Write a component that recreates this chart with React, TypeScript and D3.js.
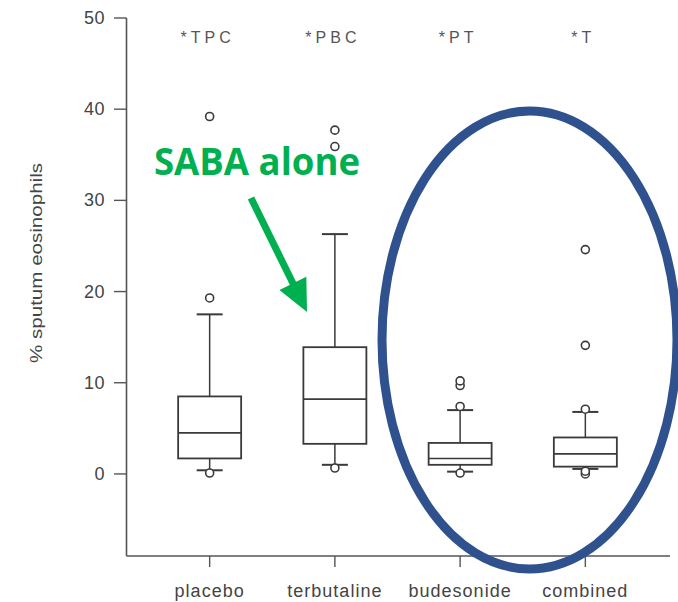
import React from "react";
import * as d3 from "d3";

const categories = ["placebo", "terbutaline", "budesonide", "combined"];
const q1 = [1.7, 3.3, 1.0, 0.8];
const medians = [4.5, 8.2, 1.7, 2.2];
const q3 = [8.5, 13.9, 3.4, 4.0];
const whiskerLow = [0.4, 1.0, 0.25, 0.55];
const whiskerHigh = [17.5, 26.3, 7.0, 6.8];
const outliers = [
  [0.1, 19.3, 39.2],
  [0.65, 35.9, 37.7],
  [0.1, 7.4, 9.7, 10.2],
  [0.0, 0.3, 7.1, 14.1, 24.6],
];
const sigLabels = ["*TPC", "*PBC", "*PT", "*T"];
const yTicks = [0, 10, 20, 30, 40, 50];
const yLabel = "% sputum eosinophils";
const annotation = "SABA alone";

const W = 678;
const H = 602;

export default function App() {
  const x = d3.scalePoint<string>().domain(categories).range([127, 668]).padding(0.66);
  const y = d3.scaleLinear().domain([-9, 50]).range([556, 18]);
  const boxW = 63;
  const capW = 26;
  const stroke = "#3a3a3a";
  const textCol = "#444";
  const font = "'Liberation Sans', Arial, sans-serif";

  // arrow geometry
  const ax0 = 251, ay0 = 198, ax1 = 307, ay1 = 312;
  const dx = ax1 - ax0, dy = ay1 - ay0;
  const len = Math.hypot(dx, dy);
  const ux = dx / len, uy = dy / len;
  const headL = 32, headW = 15;
  const bx = ax1 - ux * headL, by = ay1 - uy * headL;
  const px = -uy, py = ux;

  return (
    <svg width={W} height={H} style={{ position: "absolute", left: 0, top: 0, background: "#fff" }}>
      <rect width={W} height={H} fill="#fff" />
      {/* axes */}
      <line x1={126.5} y1={y(50)} x2={126.5} y2={556} stroke="#555" strokeWidth={1.6} />
      <line x1={126.5} y1={556} x2={670} y2={556} stroke="#555" strokeWidth={1.6} />
      {yTicks.map((t) => (
        <g key={t}>
          <line x1={114} x2={126.5} y1={y(t)} y2={y(t)} stroke="#555" strokeWidth={1.4} />
          <text x={105} y={y(t) + 6} textAnchor="end" fontFamily={font} fontSize={18} fill={textCol} letterSpacing={0.5}>
            {t}
          </text>
        </g>
      ))}
      <text
        transform={`translate(42, 263) rotate(-90)`}
        textAnchor="middle"
        fontFamily={font}
        fontSize={16}
        fill={textCol}
        textLength={200}
        lengthAdjust="spacingAndGlyphs"
      >
        {yLabel}
      </text>
      {categories.map((c, i) => {
        const cx = x(c) as number;
        return (
          <g key={c}>
            <line x1={cx} x2={cx} y1={556} y2={567} stroke="#555" strokeWidth={1.4} />
            <text x={cx} y={597} textAnchor="middle" fontFamily={font} fontSize={18} fill={textCol} letterSpacing={1}>
              {c}
            </text>
            <text x={cx - 2} y={43} textAnchor="middle" fontFamily={font} fontSize={16} fill="#555" letterSpacing={4}>
              {sigLabels[i]}
            </text>
            {/* whiskers */}
            <line x1={cx} x2={cx} y1={y(q3[i])} y2={y(whiskerHigh[i])} stroke={stroke} strokeWidth={1.5} />
            <line x1={cx} x2={cx} y1={y(q1[i])} y2={y(whiskerLow[i])} stroke={stroke} strokeWidth={1.5} />
            <line x1={cx - capW / 2} x2={cx + capW / 2} y1={y(whiskerHigh[i])} y2={y(whiskerHigh[i])} stroke={stroke} strokeWidth={2} />
            <line x1={cx - capW / 2} x2={cx + capW / 2} y1={y(whiskerLow[i])} y2={y(whiskerLow[i])} stroke={stroke} strokeWidth={2} />
            {/* box */}
            <rect
              x={cx - boxW / 2}
              y={y(q3[i])}
              width={boxW}
              height={y(q1[i]) - y(q3[i])}
              fill="#fff"
              stroke={stroke}
              strokeWidth={1.8}
            />
            <line x1={cx - boxW / 2} x2={cx + boxW / 2} y1={y(medians[i])} y2={y(medians[i])} stroke={stroke} strokeWidth={1.6} />
            {outliers[i].map((o, k) => (
              <circle key={k} cx={cx} cy={y(o)} r={4} fill="#fff" stroke={stroke} strokeWidth={1.6} />
            ))}
          </g>
        );
      })}
      {/* annotation */}
      <text x={154} y={175} fontFamily="'Open Sans', 'Noto Sans', sans-serif" fontWeight="bold" fontSize={37} fill="#00B050" textLength={206} lengthAdjust="spacingAndGlyphs">
        {annotation}
      </text>
      <line x1={ax0} y1={ay0} x2={bx + ux * 2} y2={by + uy * 2} stroke="#00B050" strokeWidth={7} />
      <polygon
        points={`${ax1},${ay1} ${bx + px * headW},${by + py * headW} ${bx - px * headW},${by - py * headW}`}
        fill="#00B050"
      />
      <ellipse cx={529.5} cy={340} rx={147.5} ry={229} fill="none" stroke="#2F528F" strokeWidth={9} />
    </svg>
  );
}
